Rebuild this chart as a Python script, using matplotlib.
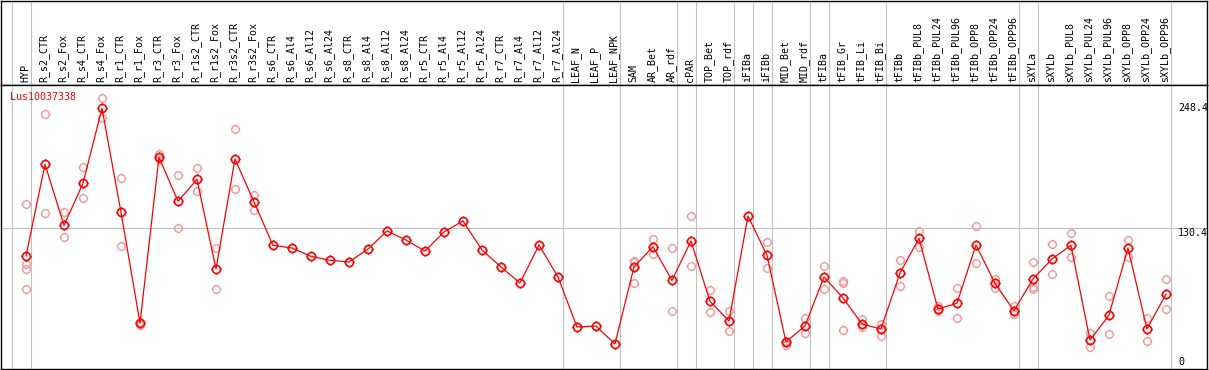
import matplotlib
matplotlib.use("Agg")
import matplotlib.pyplot as plt
from matplotlib.path import Path

gene = "Lus10037338"

labels = [
    "HYP", "R_s2_CTR", "R_s2_Fox", "R_s4_CTR", "R_s4_Fox", "R_r1_CTR", "R_r1_Fox",
    "R_r3_CTR", "R_r3_Fox", "R_r1s2_CTR", "R_r1s2_Fox", "R_r3s2_CTR", "R_r3s2_Fox",
    "R_s6_CTR", "R_s6_Al4", "R_s6_Al12", "R_s6_Al24", "R_s8_CTR", "R_s8_Al4",
    "R_s8_Al12", "R_s8_Al24", "R_r5_CTR", "R_r5_Al4", "R_r5_Al12", "R_r5_Al24",
    "R_r7_CTR", "R_r7_Al4", "R_r7_Al12", "R_r7_Al24", "LEAF_N", "LEAF_P", "LEAF_NPK",
    "SAM", "AR_Bet", "AR_rdf", "cPAR", "TOP_Bet", "TOP_rdf", "iFIBa", "iFIBb",
    "MID_Bet", "MID_rdf", "tFIBa", "tFIB_Gr", "tFIB_Li", "tFIB_Bi", "tFIBb",
    "tFIBb_PUL8", "tFIBb_PUL24", "tFIBb_PUL96", "tFIBb_OPP8", "tFIBb_OPP24",
    "tFIBb_OPP96", "sXYLa", "sXYLb", "sXYLb_PUL8", "sXYLb_PUL24", "sXYLb_PUL96",
    "sXYLb_OPP8", "sXYLb_OPP24", "sXYLb_OPP96",
]

means = [
    104.3, 190.7, 133.2, 172.8, 243.4, 145.5, 41.2, 197.3, 155.8, 176.5, 92.1,
    195.7, 155.2, 114.4, 111.9, 104.0, 100.3, 98.7, 110.9, 127.9, 119.4, 109.0,
    126.9, 137.3, 110.0, 94.0, 78.9, 114.7, 84.6, 37.5, 38.4, 21.5, 94.0, 113.1,
    81.4, 118.5, 61.7, 43.1, 142.0, 105.0, 23.4, 38.4, 84.6, 64.8, 40.3, 35.6,
    88.3, 121.0, 54.4, 59.8, 114.7, 78.6, 52.8, 82.7, 101.5, 114.4, 25.2, 48.5,
    111.9, 35.6, 68.3,
]

# replicate values per sample (empty where none are visible)
reps = [
    [153.3, 96.8, 92.1, 73.3], [237.7, 144.5], [145.8, 121.9], [188.1, 158.6],
    [252.8, 234.0], [177.5, 113.4], [42.5, 39.4], [200.7, 195.7], [180.6, 130.4],
    [186.9, 165.8], [111.6, 73.3], [223.9, 167.4], [161.8, 147.6],
    [], [], [], [], [], [], [], [], [], [], [], [], [], [], [], [], [], [], [],
    [99.9, 98.4, 78.6], [120.3, 106.5], [111.6, 52.3], [142.0, 94.6],
    [72.0, 51.3], [52.5, 33.4], [], [117.5, 92.7], [24.3, 20.5], [45.9, 31.5],
    [94.6, 73.0], [80.8, 78.9, 34.4], [45.3, 37.8], [40.3, 29.3], [100.3, 76.1],
    [127.9, 113.1], [57.3, 52.8], [73.9, 45.7], [132.3, 97.5], [83.0, 73.9],
    [57.5, 49.4], [98.4, 75.4, 73.0], [115.3, 87.1], [125.7, 103.1],
    [31.5, 18.4], [66.4, 30.9], [119.4, 103.7], [45.7, 24.0], [82.4, 54.1],
]

# group separators drawn just after these sample indices
separators_after = [-1, 0, 28, 31, 34, 35, 37, 38, 39, 41, 42, 45, 52, 53, 60]
y_marks = [0, 130.4, 248.4]

W, H = 1209, 370
fig = plt.figure(figsize=(W / 100, H / 100), dpi=100)

x_lo, x_hi = -1.316, 62.16
y_lo, y_hi = -2.07, 265.35

ax_head = fig.add_axes([1 / W, 285 / H, 1206 / W, 84.5 / H])
ax = fig.add_axes([1 / W, 1 / H, 1206 / W, 284 / H])

grid_col = "#c0c0c0"
mono = "DejaVu Sans Mono"

for a in (ax_head, ax):
    a.set_xlim(x_lo, x_hi)
    a.set_xticks([])
    a.set_yticks([])
    for s in a.spines.values():
        s.set_color("black")
        s.set_linewidth(1.0)
    for b in separators_after:
        a.axvline(b + 0.25, color=grid_col, lw=0.8, zorder=0)

ax_head.set_ylim(0, 1)
for i, lab in enumerate(labels):
    ax_head.text(i - 0.05, 0.03, lab, rotation=90, ha="center", va="bottom",
                 fontsize=7.2, family=mono, color="black")

ax.set_ylim(y_lo, y_hi)
ax.axhline(130.4, color=grid_col, lw=0.8, zorder=0)

# circle with four short ticks, like the original marker
circ = Path.unit_circle()
tl = 1.25
ticks = Path([(0, 1), (0, tl), (0, -1), (0, -tl), (1, 0), (tl, 0), (-1, 0), (-tl, 0)],
             [Path.MOVETO, Path.LINETO] * 4)
marker = Path.make_compound_path(circ, ticks)

xs = list(range(len(labels)))
rx = [i for i, r in enumerate(reps) for _ in r]
ry = [v for r in reps for v in r]
ax.plot(rx, ry, linestyle="none", marker=marker, markersize=6.8, markerfacecolor="none",
        markeredgecolor="#f09a9a", markeredgewidth=1.0, zorder=2)
ax.plot(xs, means, color="red", lw=0.9, zorder=3)
ax.plot(xs, means, linestyle="none", marker=marker, markersize=7.2, markerfacecolor="none",
        markeredgecolor="red", markeredgewidth=1.2, zorder=4)

ax.text(9 / 1206, (369 - 92) / 284, gene, transform=ax.transAxes, ha="left", va="top",
        fontsize=7.2, family=mono, color="red")

for v in y_marks:
    ax.text(60.63, v, f"{v:g}", ha="left", va="bottom" if v == 0 else "top",
            fontsize=7.2, family=mono, color="black")

fig.savefig("out.png", dpi=100)
